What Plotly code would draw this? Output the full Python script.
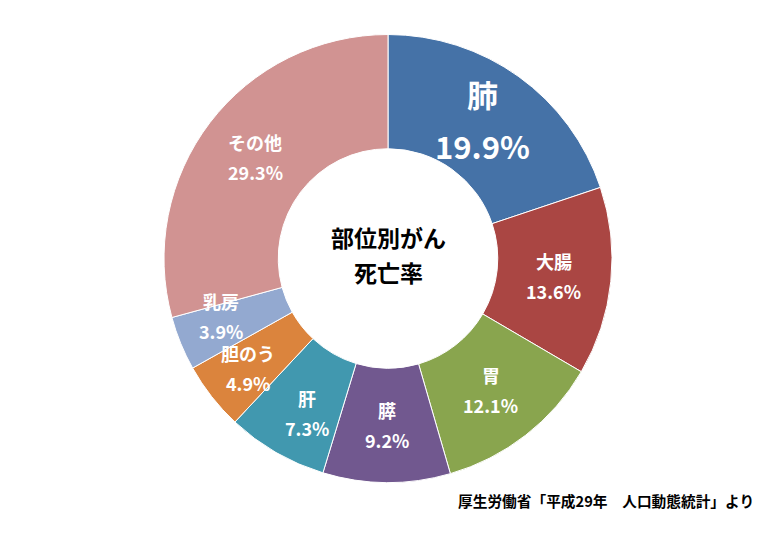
import numpy as np
import plotly.graph_objects as go

# 部位別がん死亡率（平成29年 人口動態統計）
BUI = ["肺", "大腸", "胃", "膵", "肝", "胆のう", "乳房", "その他"]
RITSU = [19.9, 13.6, 12.1, 9.2, 7.3, 4.9, 3.9, 29.3]
IRO = ["#4572a7", "#aa4643", "#89a54e", "#71588f", "#4198af", "#db843d", "#93a9d0", "#d19392"]

W, H = 776, 538
CX, CY, R_DIS, HOLE = 388, 258.5, 224, 0.49
FONT = "Noto Sans CJK JP, sans-serif"
# 重なりを避けるためのラベル微調整（px）
NUDGE = {"肺": (-3, 4), "肝": (8, 0), "乳房": (-2, 10)}

fig = go.Figure()
fig.add_trace(go.Pie(
    labels=BUI,
    values=RITSU,
    hole=HOLE,
    sort=False,
    direction="clockwise",
    rotation=0,
    textinfo="none",
    hoverinfo="label+value",
    marker=dict(colors=IRO, line=dict(color="white", width=1)),
    domain=dict(x=[(CX - R_DIS) / W, (CX + R_DIS) / W],
                y=[1 - (CY + R_DIS) / H, 1 - (CY - R_DIS) / H]),
    showlegend=False,
))


def chuki(x, y, text, size, color, shift=0, xanchor="center", xshift=0):
    fig.add_annotation(x=x, y=y, xref="paper", yref="paper", text=text,
                       xanchor=xanchor, yanchor="middle", yshift=shift,
                       xshift=xshift, showarrow=False,
                       font=dict(size=size, color=color, family=FONT))


# ラベル位置：各スライスの中央角・リング中央半径から算出（小さいスライスは外寄せ）
vals = np.asarray(RITSU, dtype=float)
cum = np.cumsum(vals) - vals / 2
kaku = 2 * np.pi * cum / vals.sum()
r_mid = R_DIS * (1 + HOLE) / 2
for i, (b, v, a) in enumerate(zip(BUI, RITSU, kaku)):
    r = r_mid + (11 if v < 8 else 0)
    x = (CX + r * np.sin(a)) / W
    y = 1 - (CY - r * np.cos(a)) / H
    dx, dy = NUDGE.get(b, (0, 0))
    big = i == 0
    size = 31 if big else 18
    shift = 26 if big else 15
    chuki(x, y, f"<b>{b}</b>", size, "white", shift + dy, xshift=dx)
    chuki(x, y, f"<b>{v:.1f}%</b>", size, "white", -shift + dy, xshift=dx)

# 中央テキスト
chuki(CX / W, 1 - CY / H, "<b>部位別がん</b>", 23, "black", 22)
chuki(CX / W, 1 - CY / H, "<b>死亡率</b>", 23, "black", -13)

chuki(756 / W, 1 - 500 / H, "<b>厚生労働省「平成29年　人口動態統計」より</b>",
      14.7, "black", xanchor="right")

fig.update_layout(
    width=W, height=H,
    margin=dict(t=0, l=0, r=0, b=0),
    paper_bgcolor="white",
    plot_bgcolor="white",
)
fig.write_html("out.html", config={"displayModeBar": False},
               post_script="document.body.style.margin='0';")
